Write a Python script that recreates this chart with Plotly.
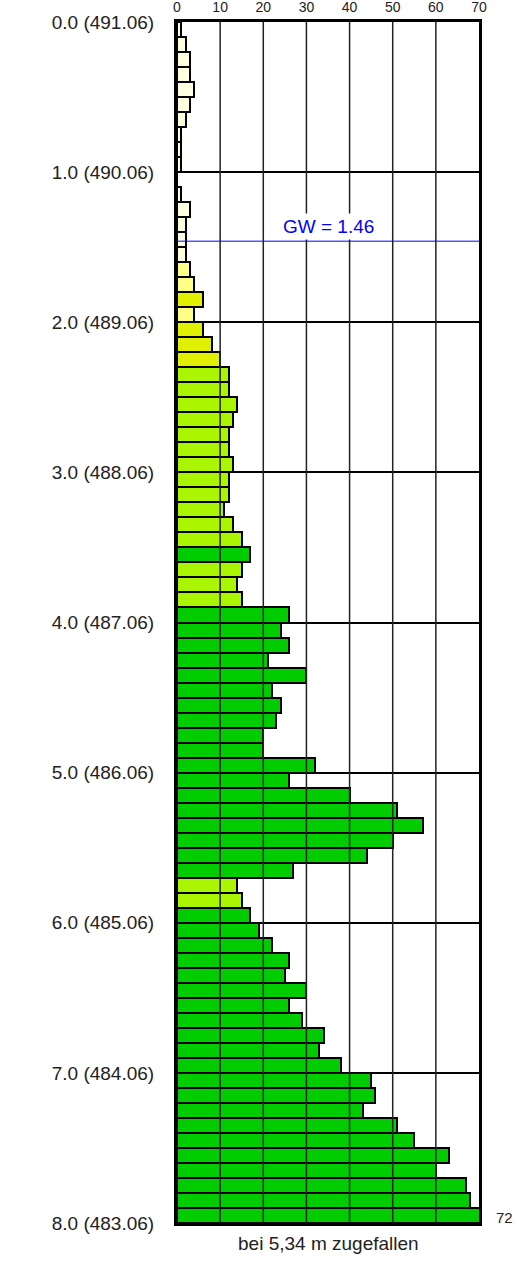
import plotly.graph_objects as go

# Depth intervals (m): each bar covers [top, top+0.1]
depth_top = [round(i * 0.1, 1) for i in range(80)]
# Blow counts N10 per 10 cm
blows = [
    1, 2, 3, 3, 4, 3, 2, 1, 1, 1,
    0, 1, 3, 2, 2, 2, 3, 4, 6, 4,
    6, 8, 10, 12, 12, 14, 13, 12, 12, 13,
    12, 12, 11, 13, 15, 17, 15, 14, 15, 26,
    24, 26, 21, 30, 22, 24, 23, 20, 20, 32,
    26, 40, 51, 57, 50, 44, 27, 14, 15, 17,
    19, 22, 26, 25, 30, 26, 29, 34, 33, 38,
    45, 46, 43, 51, 55, 63, 60, 67, 68, 72,
]
# consistency class per bar (colour key)
classes = (
    ["p"] * 16 + ["ly", "ly", "y", "ly"] + ["y"] * 3 + ["lg"] * 12
    + ["g"] + ["lg"] * 3 + ["g"] * 18 + ["lg", "lg"] + ["g"] * 21
)
class_colors = {"p": "#ffffe0", "ly": "#ffff88", "y": "#e0f000",
                "lg": "#aaf500", "g": "#00cc00"}

x_ticks = [0, 10, 20, 30, 40, 50, 60, 70]
y_ticks = [0, 1, 2, 3, 4, 5, 6, 7, 8]
y_ticktext = ["0.0 (491.06)", "1.0 (490.06)", "2.0 (489.06)", "3.0 (488.06)",
              "4.0 (487.06)", "5.0 (486.06)", "6.0 (485.06)", "7.0 (484.06)",
              "8.0 (483.06)"]
gw_level = 1.46
gw_label = "GW = 1.46"
note_text = "bei 5,34 m zugefallen"
max_label = "72"

FONT = "Liberation Sans, Arial, sans-serif"

fig = go.Figure()
fig.add_trace(go.Bar(
    x=blows,
    y=[d + 0.05 for d in depth_top],
    width=0.1,
    orientation="h",
    marker=dict(color=[class_colors[c] for c in classes],
                line=dict(color="black", width=2)),
    showlegend=False,
    hoverinfo="x+y",
))

shapes = []
for xv in x_ticks[1:-1]:
    shapes.append(dict(type="line", xref="x", yref="paper", x0=xv, x1=xv,
                       y0=0, y1=1, layer="above",
                       line=dict(color="#222", width=1.5)))
shapes.append(dict(type="line", xref="paper", yref="y", x0=0, x1=1,
                   y0=gw_level, y1=gw_level, layer="above",
                   line=dict(color="blue", width=1)))

fig.update_layout(
    width=517, height=1262,
    margin=dict(l=177, r=38, t=22, b=39),
    paper_bgcolor="white", plot_bgcolor="white",
    bargap=0,
    font=dict(family=FONT, color="#222"),
    shapes=shapes,
    xaxis=dict(range=[0, 70], side="top", tickvals=x_ticks,
               showgrid=False, zeroline=False, automargin=False,
               showline=True, linecolor="black", linewidth=3, mirror=True,
               ticks="", ticklabelstandoff=1,
               tickfont=dict(size=14, family=FONT, color="#222")),
    yaxis=dict(range=[8, 0], tickvals=y_ticks, ticktext=y_ticktext,
               showgrid=True, gridcolor="black", gridwidth=1.5,
               zeroline=False, automargin=False,
               showline=True, linecolor="black", linewidth=3, mirror=True,
               ticks="", ticklabelstandoff=16,
               tickfont=dict(size=19, family=FONT, color="#222")),
    annotations=[
        dict(text=gw_label, x=35, y=gw_level, xref="x", yref="y",
             showarrow=False, yanchor="bottom", bgcolor="white",
             borderpad=2, yshift=1,
             font=dict(size=19, color="blue", family=FONT)),
        dict(text=max_label, x=1, y=depth_top[-1] + 0.05, xref="paper", yref="y",
             xanchor="left", showarrow=False, xshift=15, yshift=-2,
             font=dict(size=15, color="#222", family=FONT)),
        dict(text=note_text, x=0.5, y=0, xref="paper", yref="paper",
             yanchor="middle", showarrow=False, yshift=-20,
             font=dict(size=19, color="#222", family=FONT)),
    ],
)

fig.write_html("out.html", config={"displayModeBar": False},
               post_script="document.body.style.margin='0';")
